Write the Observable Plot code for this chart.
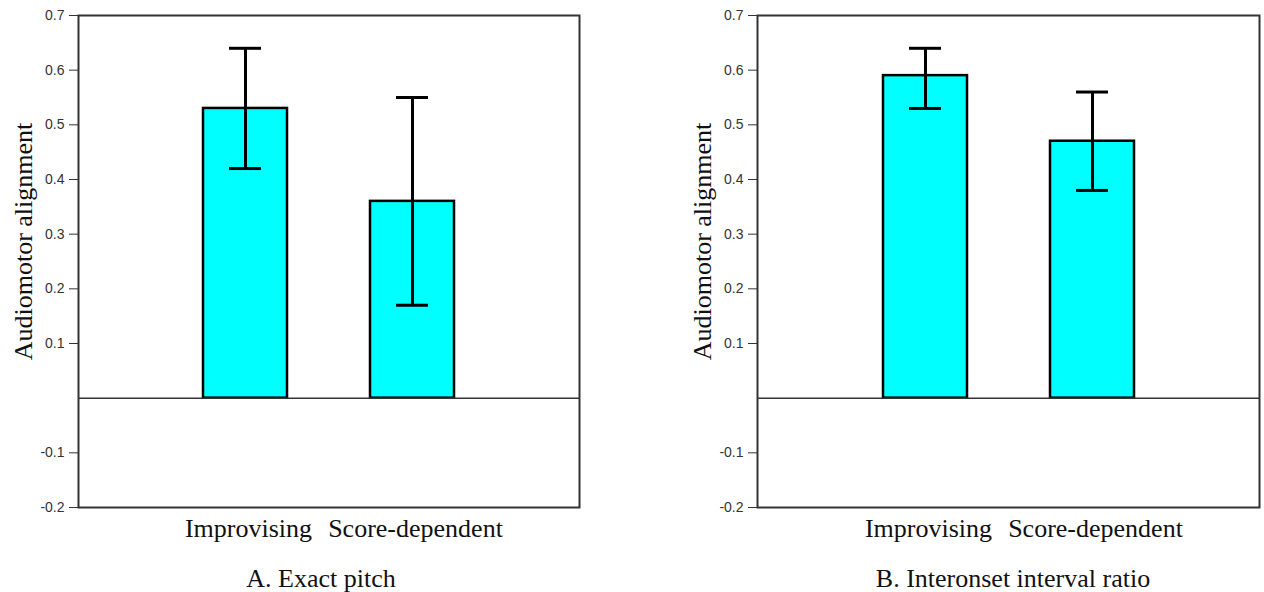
<!DOCTYPE html>
<html>
<head>
<meta charset="utf-8">
<script src="https://cdn.jsdelivr.net/npm/d3@7"></script>
<script src="https://cdn.jsdelivr.net/npm/@observablehq/plot@0.6"></script>
<style>
  html, body { margin: 0; padding: 0; background: #fff; }
  #fig { position: relative; width: 1264px; height: 592px; overflow: hidden; }
  .panel { position: absolute; top: 0; }
  .cap { position: absolute; top: 566px; width: 400px; text-align: center;
         font-family: "Liberation Serif", "Times New Roman", serif; font-size: 26px; line-height: 26px; color: #111; }
</style>
</head>
<body>
<div id="fig"></div>
<script>
// ---- data ----
const categories = ["Improvising", "Score-dependent"];
const pitchMean = [0.53, 0.36];
const pitchLow = [0.42, 0.17];
const pitchHigh = [0.64, 0.55];
const ioiMean = [0.59, 0.47];
const ioiLow = [0.53, 0.38];
const ioiHigh = [0.64, 0.56];
const yTicks = [-0.2, -0.1, 0.1, 0.2, 0.3, 0.4, 0.5, 0.6, 0.7];
const yLabel = "Audiomotor alignment";
const panelCaptions = ["A. Exact pitch", "B. Interonset interval ratio"];

const serif = "Liberation Serif, Times New Roman, serif";
const sans = "Liberation Sans, Arial, sans-serif";

function makePanel(means, lows, highs, marginLeft, marginRight) {
  const rows = categories.map((c, i) => ({cat: c, mean: means[i], lo: lows[i], hi: highs[i]}));
  return Plot.plot({
    width: 632,
    height: 550,
    marginLeft,
    marginRight,
    marginTop: 15,
    marginBottom: 43,
    style: {background: "transparent", overflow: "visible"},
    x: {type: "band", domain: categories, paddingInner: 0.5, paddingOuter: 0.75, label: null},
    y: {domain: [-0.2, 0.7], label: null},
    marks: [
      Plot.barY(rows, {x: "cat", y1: 0, y2: "mean", fill: "#00FFFF", stroke: "#000", strokeWidth: 2.5}),
      Plot.ruleY([0], {stroke: "#333", strokeWidth: 1.5}),
      Plot.ruleX(rows, {x: "cat", y1: "lo", y2: "hi", stroke: "#000", strokeWidth: 3}),
      Plot.tickY(rows, {x: "cat", y: "hi", stroke: "#000", strokeWidth: 3, inset: 26}),
      Plot.tickY(rows, {x: "cat", y: "lo", stroke: "#000", strokeWidth: 3, inset: 26}),
      Plot.frame({stroke: "#333", strokeWidth: 2}),
      Plot.axisY({ticks: yTicks, tickSize: 9, tickPadding: 5, fontSize: 14, fontFamily: sans,
                  color: "#333", tickFormat: d => d.toFixed(1), label: null}),
      Plot.axisX({tickSize: 0, tickPadding: 11, fontSize: 26, fontFamily: serif, color: "#111", label: null, dx: 3}),
      Plot.text([yLabel], {frameAnchor: "left", textAnchor: "middle", lineAnchor: "middle",
                           dx: -55, dy: -20, rotate: -90,
                           fontSize: 26, fontFamily: serif, fill: "#111"})
    ]
  });
}

const fig = document.getElementById("fig");
const panelA = makePanel(pitchMean, pitchLow, pitchHigh, 78, 53);
const panelB = makePanel(ioiMean, ioiLow, ioiHigh, 125, 5);
const wa = document.createElement("div"); wa.className = "panel"; wa.style.left = "0px"; wa.appendChild(panelA);
const wb = document.createElement("div"); wb.className = "panel"; wb.style.left = "632px"; wb.appendChild(panelB);
fig.appendChild(wa); fig.appendChild(wb);

const capCenters = [321, 1013];
panelCaptions.forEach((t, i) => {
  const d = document.createElement("div");
  d.className = "cap";
  d.style.left = (capCenters[i] - 200) + "px";
  d.textContent = t;
  fig.appendChild(d);
});
</script>
</body>
</html>
